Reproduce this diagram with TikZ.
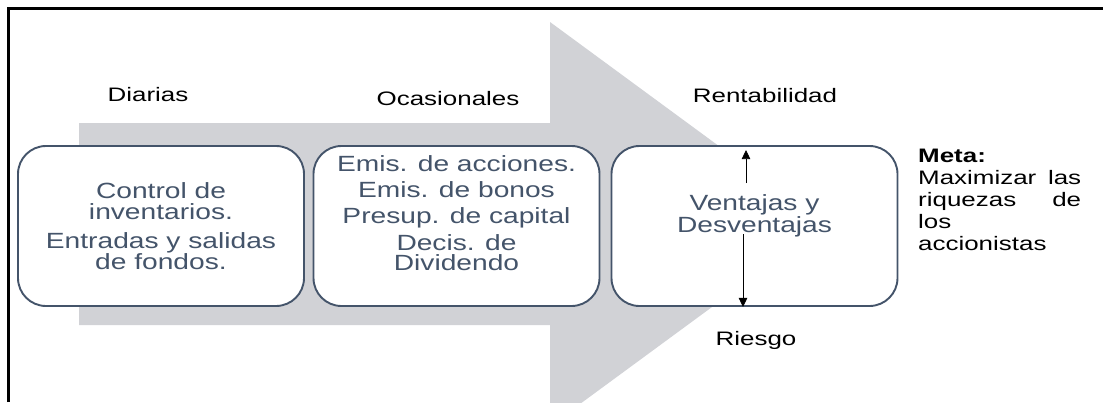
\documentclass[tikz,border=0pt]{standalone}
\usepackage{fontspec}
\setmainfont{Liberation Sans}
\newfontfamily\boxfont{Liberation Sans}[FakeStretch=1.28]
\newfontfamily\labfont{Liberation Sans}[FakeStretch=1.33]
\usetikzlibrary{arrows.meta}
\definecolor{arrowgray}{RGB}{209,210,214}
\definecolor{slate}{RGB}{68,84,106}
\tikzset{>={Triangle[width=8.5pt,length=9pt]}}
\tikzset{
  decbox/.style={draw=slate, line width=1.9pt, fill=white, rounded corners=28pt,
    minimum width=286pt, minimum height=160pt},
  boxtxt/.style={align=center, text=slate, inner sep=0pt,
    font=\boxfont\fontsize{22}{#1}\selectfont},
  boxtxt/.default=21,
  lab/.style={anchor=base, inner sep=0pt, font=\labfont\fontsize{19.5}{22}\selectfont},
}

\begin{document}
\begin{tikzpicture}[x=1pt, y=-1pt]
      \useasboundingbox (0,0) rectangle (1103,402);
      \clip (0,0) rectangle (1103,402);
      % frame
      \draw[line width=2.2pt] (8.5,402) -- (8.5,8.5) -- (1103,8.5);
      % big arrow
      \fill[arrowgray] (79,123) -- (550,123) -- (550,22) -- (825,224)
        -- (550,426) -- (550,325) -- (79,325) -- cycle;
      % boxes
      \node[decbox] (diarias) at (161,226) {};
      \node[decbox] (ocasion) at (456.5,226) {};
      \node[decbox] (ventajas) at (754.5,226) {};
      % box texts
      \node[boxtxt] (diariastxt) at (diarias.center) {Control de\\ inventarios.\\[8pt] Entradas y salidas\\ de fondos.};
      \node[boxtxt=20] (ocasiontxt) at ([yshift=13pt]ocasion.center) {Emis. de acciones.\\[6pt] Emis. de bonos\\[6pt] Presup. de capital\\[6pt] Decis. de\\ Dividendo};
      \node[boxtxt=19.5] (ventajastxt) at ([yshift=10pt]ventajas.center) {Ventajas y\\ Desventajas};
      % labels
      \node[lab] (diariaslab) at (148,101) {Diarias};
      \node[lab] (ocasionlab) at (448,105) {Ocasionales};
      \node[lab] (rentab) at (765,102) {Rentabilidad};
      \node[lab] (riesgo) at (756,345) {Riesgo};
      \node[lab, anchor=base west] (meta) at (918,162)
        {\parbox[t]{163pt}{\textbf{Meta:}\\ Maximizar\hfill las\\ riquezas\hfill de\\ los\\ accionistas}};
      % up and down
      \coordinate (upfrom) at (746,183);
      \coordinate (dnfrom) at (743,234);
      \draw[->, line width=0.8pt] (upfrom) -- ([yshift=-5pt]upfrom |- ventajas.north);
      \draw[->, line width=0.8pt] (dnfrom) -- (dnfrom |- ventajas.south);
\end{tikzpicture}
\end{document}
